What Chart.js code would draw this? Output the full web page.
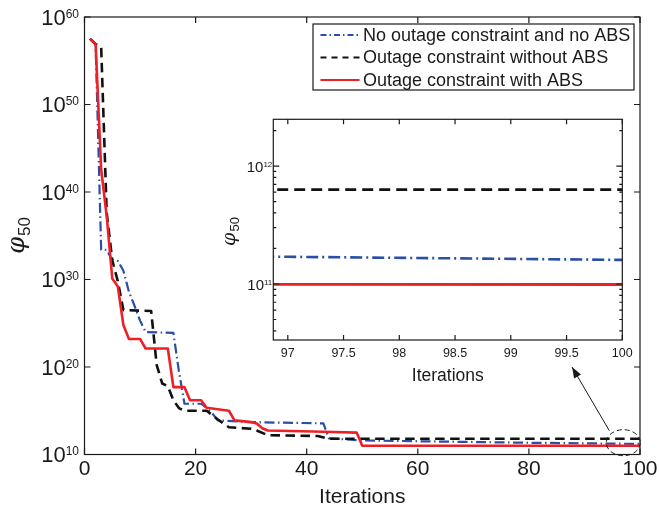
<!DOCTYPE html>
<html>
<head>
<meta charset="utf-8">
<script src="https://cdn.jsdelivr.net/npm/chart.js@4.4.1/dist/chart.umd.min.js"></script>
<style>
  html, body { margin: 0; padding: 0; background: #fff; }
  #wrap { position: relative; width: 660px; height: 512px; overflow: hidden; }
  #main { position: absolute; left: 0; top: 0; }
  #inset { position: absolute; left: 205px; top: 105px; }
</style>
</head>
<body>
<div id="wrap">
  <canvas id="main" width="660" height="512"></canvas>
  <canvas id="inset" width="430" height="285"></canvas>
</div>
<script>
// ---- data: phi_50 per iteration (only the iterations where the value changes) ----
const seriesLabels = [
  'No outage constraint and no ABS',
  'Outage constraint without ABS',
  'Outage constraint with ABS'
];

const blueIter = [1, 2, 3, 4, 5, 6, 7, 8, 9, 10, 11, 16, 17, 18, 21, 22, 23, 24, 30, 43, 44, 50, 80, 97, 100];
const blueVal  = [3.2e57, 7.9e56, 2.5e33, 2.5e33, 1.6e32, 1.3e32, 1.0e31, 4.0e28, 1.0e27, 2.0e25, 1.0e24,
                  7.9e23, 3.2e19, 6.3e15, 6.3e15, 2.0e15, 5.0e14, 7.9e13, 5.0e13, 3.6e13, 7.1e11,
                  4.0e11, 2.2e11, 1.7e11, 1.6e11];

const blackIter = [1, 2, 3, 4, 5, 6, 7, 12, 13, 14, 15, 16, 17, 18, 22, 24, 26, 30, 31, 33, 42, 44, 100];
const blackVal  = [3.2e57, 7.9e56, 4.0e56, 4.0e37, 1.6e32, 6.3e29, 3.2e26, 2.5e26, 1.6e20, 1.3e18, 6.3e17,
                   1.6e16, 2.0e15, 1.0e15, 1.0e15, 1.0e14, 1.3e13, 8.9e12, 5.6e12, 1.6e12, 1.3e12,
                   6.3e11, 6.3e11];

const redIter = [1, 2, 3, 4, 5, 6, 7, 8, 10, 11, 15, 16, 18, 19, 21, 22, 26, 27, 30, 31, 32, 33, 43, 49, 50, 100];
const redVal  = [3.2e57, 7.9e56, 4.0e42, 1.6e37, 1.3e30, 1.6e29, 6.3e24, 1.6e23, 1.6e23, 1.3e22, 1.3e22,
                 5.0e17, 5.0e17, 1.6e16, 1.6e16, 2.2e15, 1.0e15, 7.9e13, 5.0e13, 3.5e13, 1.0e13,
                 5.6e12, 4.0e12, 3.2e12, 1.0e11, 9.9e10];

// ---- axis ticks ----
const iterTicks = [0, 20, 40, 60, 80, 100];
const decadeTicks = [10, 20, 30, 40, 50, 60];          // exponents of 10
const insetIterTicks = [97, 97.5, 98, 98.5, 99, 99.5, 100];
const insetMajorExp = [11, 12];
const insetMinorTicks = [4e10, 5e10, 6e10, 7e10, 8e10, 9e10,
                         2e11, 3e11, 4e11, 5e11, 6e11, 7e11, 8e11, 9e11, 2e12];

const FONT = '"Liberation Sans", Arial, Helvetica, sans-serif';
const BLUE = '#2a4fa8';
const BLACK = '#111111';
const RED = '#ee2026';
const AXIS = '#1a1a1a';

const pts = (xs, ys) => xs.map((x, i) => ({ x: x, y: ys[i] }));

// "10" with a raised exponent, right-aligned at xRight, digits centred on y
function powLabel(ctx, exp, xRight, y, bigPx, smallPx) {
  ctx.textAlign = 'left';
  ctx.textBaseline = 'alphabetic';
  ctx.font = smallPx + 'px ' + FONT;
  const ew = ctx.measureText(String(exp)).width;
  ctx.font = bigPx + 'px ' + FONT;
  const bw = ctx.measureText('10').width;
  const base = y + bigPx * 0.358;
  ctx.fillText('10', xRight - ew - bw, base);
  ctx.font = smallPx + 'px ' + FONT;
  ctx.fillText(String(exp), xRight - ew, base - bigPx * 0.716 + smallPx * 0.716);
}

// rotated phi with subscript 50
function phiTitle(ctx, cx, cy, phiPx, subPx) {
  ctx.save();
  ctx.translate(cx, cy);
  ctx.rotate(-Math.PI / 2);
  ctx.textBaseline = 'alphabetic';
  ctx.textAlign = 'left';
  ctx.font = 'italic ' + phiPx + 'px "DejaVu Serif", "Liberation Serif", serif';
  const pw = ctx.measureText('\u03c6').width;
  ctx.font = subPx + 'px ' + FONT;
  const sw = ctx.measureText('50').width;
  const x0 = -(pw + sw) / 2;
  const base = phiPx * 0.3;
  ctx.font = 'italic ' + phiPx + 'px "DejaVu Serif", "Liberation Serif", serif';
  ctx.fillStyle = AXIS;
  ctx.fillText('\u03c6', x0, base);
  ctx.font = subPx + 'px ' + FONT;
  ctx.fillText('50', x0 + pw + 1, base + subPx * 0.35);
  ctx.restore();
}

function styleLine(ctx, ds, width) {
  ctx.strokeStyle = ds.borderColor;
  ctx.lineWidth = width;
  ctx.setLineDash(ds.borderDash || []);
}

const mainDecor = {
  id: 'mainDecor',
  afterDraw(chart) {
    const ctx = chart.ctx;
    const a = chart.chartArea;
    const xs = chart.scales.x, ys = chart.scales.y;
    ctx.save();
    ctx.setLineDash([]);
    ctx.strokeStyle = AXIS;
    ctx.fillStyle = AXIS;
    ctx.lineWidth = 1.2;
    ctx.strokeRect(a.left, a.top, a.right - a.left, a.bottom - a.top);

    // inward ticks
    ctx.beginPath();
    iterTicks.forEach(v => {
      const px = xs.getPixelForValue(v);
      ctx.moveTo(px, a.bottom); ctx.lineTo(px, a.bottom - 6);
      ctx.moveTo(px, a.top); ctx.lineTo(px, a.top + 6);
    });
    decadeTicks.forEach(e => {
      const py = ys.getPixelForValue(Math.pow(10, e));
      ctx.moveTo(a.left, py); ctx.lineTo(a.left + 6, py);
      ctx.moveTo(a.right, py); ctx.lineTo(a.right - 6, py);
    });
    ctx.stroke();

    // tick labels
    ctx.font = '21px ' + FONT;
    ctx.textAlign = 'center';
    ctx.textBaseline = 'alphabetic';
    iterTicks.forEach(v => {
      ctx.fillText(String(v), xs.getPixelForValue(v), a.bottom + 20);
    });
    decadeTicks.forEach(e => {
      powLabel(ctx, e, 79, ys.getPixelForValue(Math.pow(10, e)), 22, 12);
    });

    // axis titles
    ctx.font = '21px ' + FONT;
    ctx.textAlign = 'center';
    ctx.fillText('Iterations', (a.left + a.right) / 2, 503);
    phiTitle(ctx, 17, 236, 24, 17);

    // legend
    const lx = 313, ly = 24, lw = 321, lh = 66;
    ctx.fillStyle = '#fff';
    ctx.fillRect(lx, ly, lw, lh);
    ctx.strokeStyle = AXIS;
    ctx.lineWidth = 1.2;
    ctx.setLineDash([]);
    ctx.strokeRect(lx, ly, lw, lh);
    const rows = [35, 57.5, 80];
    const legendDash = [[6, 3, 1.5, 3], [6, 5], []];
    chart.data.datasets.forEach((ds, i) => {
      ctx.strokeStyle = ds.borderColor;
      ctx.lineWidth = 2;
      ctx.setLineDash(legendDash[i]);
      ctx.beginPath();
      ctx.moveTo(320.5, rows[i]);
      ctx.lineTo(359.5, rows[i]);
      ctx.stroke();
      ctx.setLineDash([]);
      ctx.fillStyle = AXIS;
      ctx.font = '18px ' + FONT;
      ctx.textAlign = 'left';
      ctx.textBaseline = 'middle';
      ctx.fillText(ds.label, 363, rows[i] + 1);
    });

    // dashed ellipse around the last iterations and arrow towards the zoomed view
    const ex = xs.getPixelForValue(97), ey = ys.getPixelForValue(Math.pow(10, 11.35));
    ctx.strokeStyle = AXIS;
    ctx.lineWidth = 1;
    ctx.setLineDash([5, 3]);
    ctx.beginPath();
    ctx.ellipse(ex, ey, 17, 13, 0, 0, Math.PI * 2);
    ctx.stroke();
    ctx.setLineDash([]);
    const sx = ex - 14, sy = ey - 12, tx = 572, ty = 367;
    ctx.beginPath();
    ctx.moveTo(sx, sy);
    ctx.lineTo(tx, ty);
    ctx.stroke();
    const ang = Math.atan2(ty - sy, tx - sx);
    ctx.beginPath();
    ctx.moveTo(tx, ty);
    ctx.lineTo(tx - 11 * Math.cos(ang) + 4 * Math.sin(ang), ty - 11 * Math.sin(ang) - 4 * Math.cos(ang));
    ctx.lineTo(tx - 11 * Math.cos(ang) - 4 * Math.sin(ang), ty - 11 * Math.sin(ang) + 4 * Math.cos(ang));
    ctx.closePath();
    ctx.fillStyle = AXIS;
    ctx.fill();
    ctx.restore();
  }
};

const insetDecor = {
  id: 'insetDecor',
  beforeDatasetsDraw(chart) {
    const a = chart.chartArea;
    chart.ctx.save();
    chart.ctx.fillStyle = '#fff';
    chart.ctx.fillRect(a.left, a.top, a.right - a.left, a.bottom - a.top);
    chart.ctx.restore();
  },
  afterDraw(chart) {
    const ctx = chart.ctx;
    const a = chart.chartArea;
    const xs = chart.scales.x, ys = chart.scales.y;
    ctx.save();
    ctx.setLineDash([]);
    ctx.strokeStyle = AXIS;
    ctx.fillStyle = AXIS;
    ctx.lineWidth = 1.2;
    ctx.strokeRect(a.left, a.top, a.right - a.left, a.bottom - a.top);
    ctx.beginPath();
    insetIterTicks.forEach(v => {
      const px = xs.getPixelForValue(v);
      ctx.moveTo(px, a.bottom); ctx.lineTo(px, a.bottom - 5);
      ctx.moveTo(px, a.top); ctx.lineTo(px, a.top + 5);
    });
    insetMajorExp.forEach(e => {
      const py = ys.getPixelForValue(Math.pow(10, e));
      ctx.moveTo(a.left, py); ctx.lineTo(a.left + 6, py);
      ctx.moveTo(a.right, py); ctx.lineTo(a.right - 6, py);
    });
    insetMinorTicks.forEach(v => {
      const py = ys.getPixelForValue(v);
      ctx.moveTo(a.left, py); ctx.lineTo(a.left + 3, py);
      ctx.moveTo(a.right, py); ctx.lineTo(a.right - 3, py);
    });
    ctx.stroke();

    ctx.font = '12.5px ' + FONT;
    ctx.textAlign = 'center';
    ctx.textBaseline = 'alphabetic';
    insetIterTicks.forEach(v => {
      ctx.fillText(String(v), xs.getPixelForValue(v), a.bottom + 17);
    });
    insetMajorExp.forEach(e => {
      powLabel(ctx, e, a.left - 1, ys.getPixelForValue(Math.pow(10, e)) + 1, 15, 8);
    });
    ctx.font = '17.5px ' + FONT;
    ctx.textAlign = 'center';
    ctx.fillText('Iterations', (a.left + a.right) / 2, a.bottom + 41);
    phiTitle(ctx, 24, 127, 19, 13);
    ctx.restore();
  }
};

const commonElements = { point: { radius: 0 }, line: { tension: 0, fill: false, borderJoinStyle: 'round' } };

new Chart(document.getElementById('main'), {
  type: 'line',
  data: {
    datasets: [
      { label: seriesLabels[0], data: pts(blueIter, blueVal), borderColor: BLUE, borderWidth: 2.2, borderDash: [10, 3.5, 1.5, 3.5], order: 2 },
      { label: seriesLabels[1], data: pts(blackIter, blackVal), borderColor: BLACK, borderWidth: 2.6, borderDash: [9.5, 5.5], order: 1 },
      { label: seriesLabels[2], data: pts(redIter, redVal), borderColor: RED, borderWidth: 2.6, order: 0 }
    ]
  },
  options: {
    responsive: false,
    animation: false,
    devicePixelRatio: 1,
    layout: { padding: { left: 84.5, top: 17, right: 20, bottom: 57.5 } },
    elements: commonElements,
    plugins: { legend: { display: false }, tooltip: { enabled: false } },
    scales: {
      x: { type: 'linear', min: 0, max: 100, display: false },
      y: { type: 'logarithmic', min: 1e10, max: 1e60, display: false }
    }
  },
  plugins: [mainDecor]
});

new Chart(document.getElementById('inset'), {
  type: 'line',
  data: {
    datasets: [
      { label: seriesLabels[0], data: pts(blueIter, blueVal), borderColor: BLUE, borderWidth: 2.6, borderDash: [12, 4, 2, 4], order: 2 },
      { label: seriesLabels[1], data: pts(blackIter, blackVal), borderColor: BLACK, borderWidth: 2.8, borderDash: [11, 6], order: 1 },
      { label: seriesLabels[2], data: pts(redIter, redVal), borderColor: RED, borderWidth: 2.8, order: 0 }
    ]
  },
  options: {
    responsive: false,
    animation: false,
    devicePixelRatio: 1,
    layout: { padding: { left: 68.3, top: 14.3, right: 12.7, bottom: 50 } },
    elements: commonElements,
    plugins: { legend: { display: false }, tooltip: { enabled: false } },
    scales: {
      x: { type: 'linear', min: 96.87, max: 100, display: false },
      y: { type: 'logarithmic', min: 3.35e10, max: 2.49e12, display: false }
    }
  },
  plugins: [insetDecor]
});
</script>
</body>
</html>
